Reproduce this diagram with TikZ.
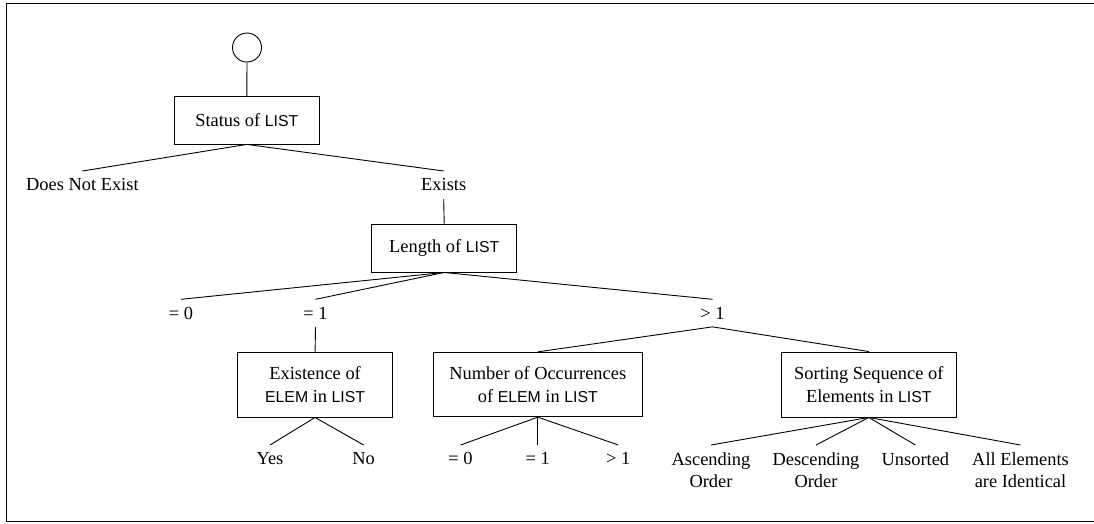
\documentclass[tikz,border=0pt]{standalone}
\usepackage{fontspec}
\setmainfont{Liberation Serif}
\newfontfamily\hvfont{Liberation Sans}
% identifiers of the program under test are set in a sans face
\newcommand\ident[1]{{\hvfont\fontsize{15.8}{22.4}\selectfont #1}}

\begin{document}
\begin{tikzpicture}[x=1pt,y=-1pt,
  every node/.style={font=\fontsize{18.4}{22.4}\selectfont},
  box/.style={draw, line width=0.9pt, inner sep=0pt, align=center},
  leaf/.style={inner xsep=0pt, inner ysep=7.5pt, anchor=north, align=center},
  edge/.style={line width=0.9pt}]

\useasboundingbox (0,0) rectangle (1094,523);
\draw[line width=1pt] (6.3,3) rectangle (1110,521);

% root and first classification
\node[draw, circle, minimum size=29, inner sep=0pt, line width=0.9pt] (root) at (247,47.5) {};
\node[box, minimum width=145, minimum height=47.3] (status) at (246.8,120.3) {Status of \ident{LIST}};
\node[leaf] (dne) at (82.4,171) {Does Not Exist};
\node[leaf] (exists) at (443.7,171) {Exists};

% length of the list
\node[box, minimum width=145, minimum height=48] (length) at (444.2,248) {Length of \ident{LIST}};
\node[leaf] (len0) at (181,299.3) {= 0};
\node[leaf] (len1) at (315.5,299.3) {= 1};
\node[leaf] (lenN) at (712.5,299.3) {> 1};

% third level classifications
\node[box, minimum width=155.3, minimum height=65] (exist) at (315.1,384.5) {Existence of\\\ident{ELEM} in \ident{LIST}};
\node[box, minimum width=209, minimum height=64.4] (count) at (537.8,384.5) {Number of Occurrences\\of \ident{ELEM} in \ident{LIST}};
\node[box, minimum width=175, minimum height=65] (sort) at (868.8,384.5) {Sorting Sequence of\\Elements in \ident{LIST}};

% leaves
\node[leaf] (yes) at (270,445) {Yes};
\node[leaf] (no) at (363.6,445) {No};
\node[leaf] (cnt0) at (460.5,445) {= 0};
\node[leaf] (cnt1) at (537.8,445) {= 1};
\node[leaf] (cntN) at (618.3,445) {> 1};
\node[leaf] (asc) at (711,445) {Ascending\\Order};
\node[leaf] (desc) at (816,445) {Descending\\Order};
\node[leaf] (uns) at (915.4,445) {Unsorted};
\node[leaf] (same) at (1020.5,445) {All Elements\\are Identical};

% connectors
\draw[edge] (root.south) -- (status.north);
\draw[edge] (dne.north) -- (status.south) -- (exists.north);
\draw[edge] (exists.south) -- (length.north);
\draw[edge] (length.south) -- (len0.north);
\draw[edge] (length.south) -- (len1.north);
\draw[edge] (length.south) -- (lenN.north);
\draw[edge] (len1.south) -- (exist.north);
\draw[edge] (count.north) -- (lenN.south) -- (sort.north);
\draw[edge] (yes.north) -- (exist.south) -- (no.north);
\draw[edge] (count.south) -- (cnt0.north);
\draw[edge] (count.south) -- (cnt1.north);
\draw[edge] (count.south) -- (cntN.north);
\draw[edge] (sort.south) -- (asc.north);
\draw[edge] (sort.south) -- (desc.north);
\draw[edge] (sort.south) -- (uns.north);
\draw[edge] (sort.south) -- (same.north);
\end{tikzpicture}
\end{document}
